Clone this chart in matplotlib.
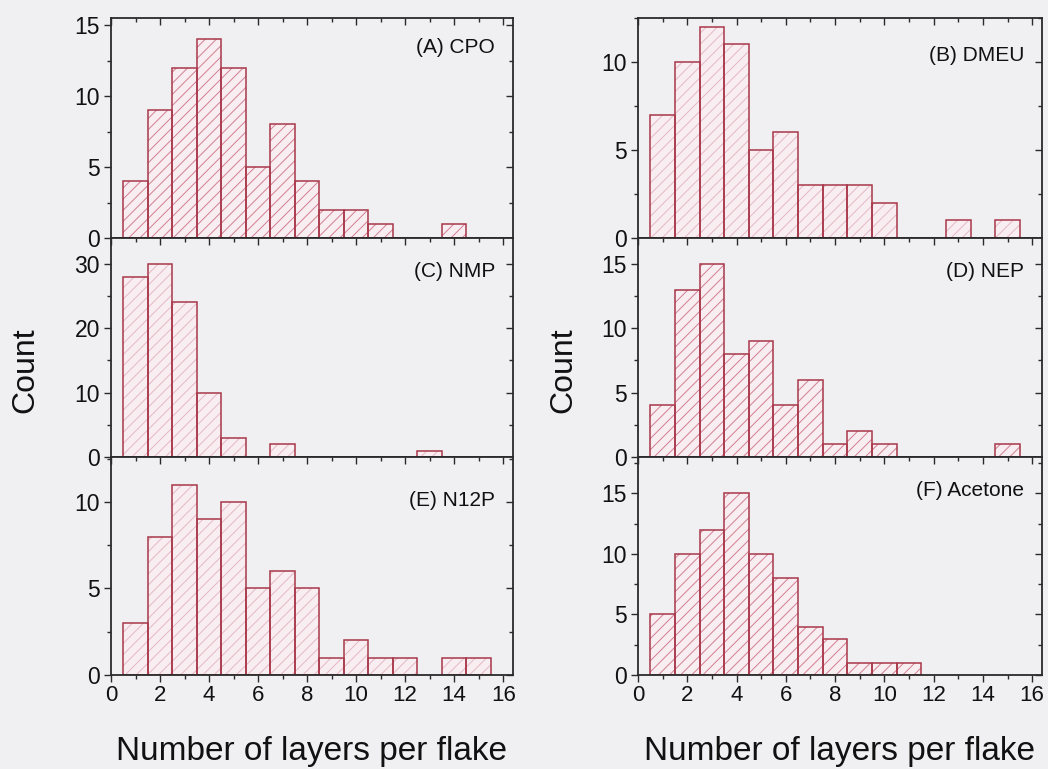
import numpy as np
import matplotlib
matplotlib.use("Agg")
import matplotlib.pyplot as plt
from matplotlib.ticker import MultipleLocator

# Layer-number bins (1 ... 15 layers per flake)
layers = list(range(1, 16))

# Flake counts per bin for each solvent
cpo     = [4, 9, 12, 14, 12, 5, 8, 4, 2, 2, 1, 0, 0, 1, 0]
dmeu    = [7, 10, 12, 11, 5, 6, 3, 3, 3, 2, 0, 0, 1, 0, 1]
nmp     = [28, 30, 24, 10, 3, 0, 2, 0, 0, 0, 0, 0, 1, 0, 0]
nep     = [4, 13, 15, 8, 9, 4, 6, 1, 2, 1, 0, 0, 0, 0, 1]
n12p    = [3, 8, 11, 9, 10, 5, 6, 5, 1, 2, 1, 1, 0, 1, 1]
acetone = [5, 10, 12, 15, 10, 8, 4, 3, 1, 1, 1, 0, 0, 0, 0]

panel_labels = ["(A) CPO", "(B) DMEU", "(C) NMP", "(D) NEP", "(E) N12P", "(F) Acetone"]
x_ticks = [0, 2, 4, 6, 8, 10, 12, 14, 16]
x_label = "Number of layers per flake"
y_label = "Count"

plt.rcParams["font.family"] = ["Liberation Sans", "DejaVu Sans"]
plt.rcParams["hatch.linewidth"] = 0.7

BG = "#f0f0f3"
EDGE = "#a8384a"
FILL = "#f8edf1"
HATCH_DARK = "#d27f91"
HATCH_LIGHT = "#e6b9c4"
AXIS = "#2a2a2a"
TXT = "#111111"

fig = plt.figure(figsize=(10.48, 7.69), dpi=100, facecolor=BG)
W, H = 1048.0, 769.0

col_left = [111, 638]
col_right = [513, 1042]
row_top = [18, 238, 457]
row_bot = [238, 457, 675]

series = [cpo, dmeu, nmp, nep, n12p, acetone]
ylims = [15.5, 12.5, 34, 17, 12.6, 18]
ymajor = [5, 5, 10, 5, 5, 5]
ylabel_y = [0.868, 0.83, 0.845, 0.845, 0.80, 0.845]
dense = [True, False, False, True, False, True]


def style_ticks(axis_obj, major, minor):
    axis_obj.set_major_locator(MultipleLocator(major))
    axis_obj.set_minor_locator(MultipleLocator(minor))


for i, counts in enumerate(series):
    r, c = divmod(i, 2)
    x0 = col_left[c] / W
    w = (col_right[c] - col_left[c]) / W
    y0 = 1 - row_bot[r] / H
    h = (row_bot[r] - row_top[r]) / H
    ax = fig.add_axes([x0, y0, w, h])
    ax.set_facecolor(BG)

    xs = np.array(layers, dtype=float)
    ys = np.array(counts, dtype=float)
    keep = ys > 0
    hatch_col = HATCH_DARK if dense[i] else HATCH_LIGHT
    # hatched fill, then outlines on top
    ax.bar(xs[keep], ys[keep], width=1.0, facecolor=FILL, edgecolor=hatch_col,
           linewidth=0, hatch="///", zorder=2)
    ax.bar(xs[keep], ys[keep], width=1.0, facecolor="none", edgecolor=EDGE,
           linewidth=1.1, zorder=3)

    ax.set_xlim(0, 16.4)
    ax.set_ylim(0, ylims[i])
    style_ticks(ax.xaxis, 2, 1)
    style_ticks(ax.yaxis, ymajor[i], ymajor[i] / 2)

    for s in ax.spines.values():
        s.set_color(AXIS)
        s.set_linewidth(1.3)
        s.set_zorder(5)

    ax.tick_params(which="both", direction="out", color=AXIS, width=1.0,
                   top=False, right=False)
    ax.tick_params(which="major", length=5)
    ax.tick_params(which="minor", length=3)
    ax.tick_params(axis="y", labelsize=16.5, pad=3, labelcolor=TXT)
    ax.tick_params(axis="x", labelsize=16, pad=2, labelcolor=TXT)
    if r < 2:
        ax.tick_params(axis="x", labelbottom=False)

    # mirrored inward ticks on the top and right frame edges
    top = ax.secondary_xaxis("top")
    style_ticks(top.xaxis, 2, 1)
    top.tick_params(which="both", direction="in", color=AXIS, width=1.0,
                    labeltop=False)
    top.tick_params(which="major", length=5)
    top.tick_params(which="minor", length=3)
    top.spines["top"].set_visible(False)
    right = ax.secondary_yaxis("right")
    style_ticks(right.yaxis, ymajor[i], ymajor[i] / 2)
    right.tick_params(which="both", direction="in", color=AXIS, width=1.0,
                      labelright=False)
    right.tick_params(which="major", length=5)
    right.tick_params(which="minor", length=3)
    right.spines["right"].set_visible(False)

    ax.text(1 - 18 / (col_right[c] - col_left[c]), ylabel_y[i], panel_labels[i],
            transform=ax.transAxes, ha="right", va="center", fontsize=15,
            color=TXT)

# shared axis titles
for xc in [312, 840]:
    fig.text(xc / W, 1 - 760 / H, x_label, ha="center", va="baseline",
             fontsize=24, color=TXT)
for xc in [25, 563]:
    fig.text(xc / W, 1 - 370 / H, y_label, rotation=90, ha="center", va="center",
             fontsize=23, color=TXT)

fig.savefig("out.png", dpi=100, facecolor=BG)
